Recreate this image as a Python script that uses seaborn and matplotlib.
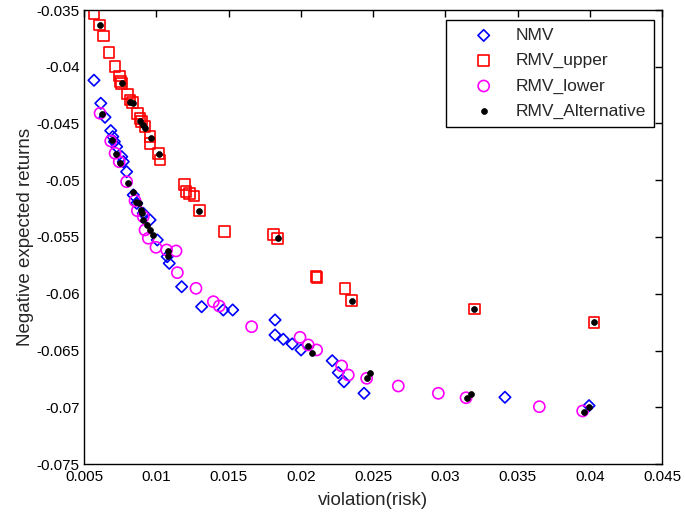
import numpy as np
import pandas as pd
import matplotlib
matplotlib.use('Agg')
import matplotlib.pyplot as plt
import seaborn as sns

# Datos
nmv_x = [0.00569, 0.00616, 0.00645, 0.00685, 0.00699, 0.00710, 0.00726, 0.00761, 0.00772,
         0.00795, 0.00841, 0.00865, 0.00910, 0.00957, 0.01007, 0.01076, 0.01090, 0.01176,
         0.01314, 0.01464, 0.01529, 0.01822, 0.01822, 0.01879, 0.01941, 0.02002, 0.02218,
         0.02260, 0.02299, 0.02438, 0.03413, 0.03995]
nmv_y = [-0.04119, -0.04322, -0.04445, -0.04563, -0.04616, -0.04660, -0.04704, -0.04792, -0.04836,
         -0.04925, -0.05130, -0.05203, -0.05291, -0.05350, -0.05526, -0.05673, -0.05732, -0.05938,
         -0.06114, -0.06143, -0.06143, -0.06231, -0.06363, -0.06401, -0.06442, -0.06495, -0.06590,
         -0.06695, -0.06775, -0.06877, -0.06912, -0.06986]

upper_x = [0.00569, 0.00606, 0.00634, 0.00673, 0.00715, 0.00744, 0.00754, 0.00761, 0.00802,
           0.00818, 0.00837, 0.00872, 0.00888, 0.00899, 0.00922, 0.00957, 0.00957, 0.01014,
           0.01026, 0.01194, 0.01206, 0.01229, 0.01261, 0.01298, 0.01471, 0.01810, 0.01840,
           0.02105, 0.02112, 0.02306, 0.02352, 0.03201, 0.04030]
upper_y = [-0.03535, -0.03632, -0.03729, -0.03873, -0.04000, -0.04081, -0.04128, -0.04146, -0.04240,
           -0.04293, -0.04317, -0.04410, -0.04454, -0.04484, -0.04528, -0.04616, -0.04674, -0.04762,
           -0.04822, -0.05036, -0.05101, -0.05115, -0.05139, -0.05268, -0.05450, -0.05476, -0.05511,
           -0.05850, -0.05858, -0.05955, -0.06061, -0.06134, -0.06251]

lower_x = [0.00611, 0.00685, 0.00715, 0.00744, 0.00795, 0.00853, 0.00869, 0.00910, 0.00922,
           0.00945, 0.00998, 0.01072, 0.01137, 0.01146, 0.01275, 0.01395, 0.01436, 0.01660,
           0.01995, 0.02052, 0.02110, 0.02283, 0.02329, 0.02456, 0.02675, 0.02952, 0.03144,
           0.03651, 0.03951]
lower_y = [-0.04410, -0.04654, -0.04762, -0.04837, -0.05013, -0.05180, -0.05268, -0.05321, -0.05438,
           -0.05511, -0.05591, -0.05614, -0.05623, -0.05814, -0.05952, -0.06070, -0.06108, -0.06290,
           -0.06384, -0.06451, -0.06495, -0.06636, -0.06716, -0.06745, -0.06813, -0.06877, -0.06916,
           -0.06995, -0.07033]

alt_x = [0.00611, 0.00765, 0.00818, 0.00837, 0.00888, 0.00906, 0.00922, 0.00962, 0.01017,
         0.01298, 0.01840, 0.02352, 0.03201, 0.04030,
         0.00622, 0.00692, 0.00721, 0.00749, 0.00807, 0.00841, 0.00860, 0.00883, 0.00892,
         0.00899, 0.00910, 0.00934, 0.00957, 0.00975, 0.01083, 0.01079, 0.02052, 0.02075,
         0.02479, 0.02461, 0.03176, 0.03148, 0.03997, 0.03960]
alt_y = [-0.03632, -0.04146, -0.04308, -0.04322, -0.04475, -0.04513, -0.04542, -0.04625, -0.04769,
         -0.05268, -0.05511, -0.06061, -0.06134, -0.06251,
         -0.04419, -0.04645, -0.04769, -0.04851, -0.05027, -0.05101, -0.05194, -0.05203, -0.05262,
         -0.05291, -0.05350, -0.05394, -0.05438, -0.05482, -0.05621, -0.05667, -0.06460, -0.06519,
         -0.06701, -0.06745, -0.06886, -0.06918, -0.07000, -0.07039]

xticks = [0.005, 0.01, 0.015, 0.02, 0.025, 0.03, 0.035, 0.04, 0.045]
xtick_labels = ['0.005', '0.01', '0.015', '0.02', '0.025', '0.03', '0.035', '0.04', '0.045']
yticks = [-0.035, -0.04, -0.045, -0.05, -0.055, -0.06, -0.065, -0.07, -0.075]
ytick_labels = ['-0.035', '-0.04', '-0.045', '-0.05', '-0.055', '-0.06', '-0.065', '-0.07', '-0.075']

sns.set_style('white')
plt.rcParams['font.family'] = ['Liberation Sans', 'DejaVu Sans']

fig = plt.figure(figsize=(6.85, 5.22), dpi=100)
ax = fig.add_axes([84 / 685, 58 / 522, 578 / 685, 454 / 522])

sns.scatterplot(x=nmv_x, y=nmv_y, marker='D', s=34, color='#0000ff', facecolor='none',
                edgecolor='#0000ff', linewidth=1.2, ax=ax, label='NMV')
sns.scatterplot(x=upper_x, y=upper_y, marker='s', s=60, color='#ff0000', facecolor='none',
                edgecolor='#ff0000', linewidth=1.2, ax=ax, label='RMV_upper')
sns.scatterplot(x=lower_x, y=lower_y, marker='o', s=64, color='#ff00ff', facecolor='none',
                edgecolor='#ff00ff', linewidth=1.2, ax=ax, label='RMV_lower')
sns.scatterplot(x=alt_x, y=alt_y, marker='o', s=18, color='black', edgecolor='black',
                linewidth=0.5, ax=ax, label='RMV_Alternative')

ax.set_xlim(0.005, 0.045)
ax.set_ylim(-0.075, -0.035)
ax.set_xticks(xticks)
ax.set_xticklabels(xtick_labels)
ax.set_yticks(yticks)
ax.set_yticklabels(ytick_labels)
ax.tick_params(direction='in', length=5, width=1, top=True, right=True,
               labelsize=11, colors='black', pad=3)
ax.tick_params(axis='x', pad=4)
for sp in ax.spines.values():
    sp.set_visible(True)
    sp.set_color('black')
    sp.set_linewidth(1.0)

ax.set_xlabel('violation(risk)', fontsize=13.5, labelpad=6)
ax.set_ylabel('Negative expected returns', fontsize=13.5, labelpad=2)

leg = ax.legend(loc='upper right', bbox_to_anchor=(570 / 578, 444 / 454), fontsize=12.5,
                frameon=True, fancybox=False, edgecolor='black', framealpha=1,
                handlelength=3.5, handletextpad=0.1, labelspacing=0.58,
                borderaxespad=0, borderpad=0.45)
leg.get_frame().set_linewidth(1.0)

fig.savefig('out.png', dpi=100)
